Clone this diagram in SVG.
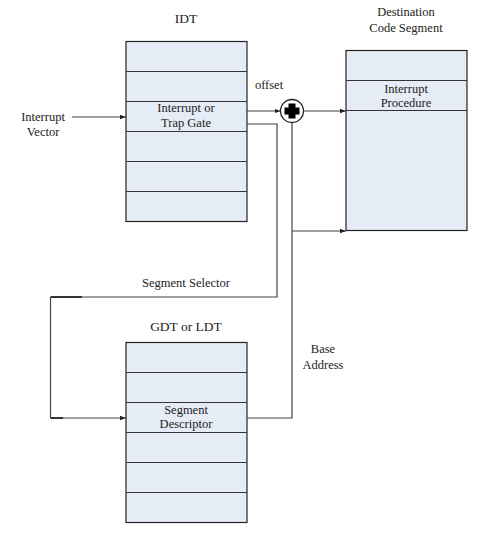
<svg xmlns="http://www.w3.org/2000/svg" width="495" height="543" viewBox="0 0 495 543" font-family="'Liberation Serif', 'DejaVu Serif', serif">
<style>
text{fill:#222;text-anchor:middle}
.t{font-size:12.5px}
.h{font-size:13.5px}
.box{fill:#e6ecf6;stroke:#222;stroke-width:1.2}
.row{stroke:#333;stroke-width:1}
.c{fill:none;stroke:#444;stroke-width:1.2}
</style>
<defs>
<marker id="ah" viewBox="0 0 8 6" refX="8" refY="3" markerWidth="6" markerHeight="5" orient="auto" markerUnits="userSpaceOnUse">
<path d="M0,0 L8,3 L0,6 Z" fill="#222"/>
</marker>
</defs>
<rect width="495" height="543" fill="#fff"/>

<g id="idt">
<text class="h" x="186" y="23">IDT</text>
<rect class="box" x="126" y="41.5" width="121" height="180"/>
<path class="row" d="M126 71.5H247M126 101.5H247M126 131.5H247M126 161.5H247M126 191.5H247"/>
<text class="t" x="186" y="112">Interrupt or</text>
<text class="t" x="186" y="127">Trap Gate</text>
</g>

<g id="vector">
<text class="t" x="43" y="121">Interrupt</text>
<text class="t" x="43" y="136">Vector</text>
</g>

<g id="dest">
<text class="t" x="406" y="16">Destination</text>
<text class="t" x="406" y="32">Code Segment</text>
<rect class="box" x="346" y="50.5" width="121" height="180"/>
<path class="row" d="M346 80.5H467M346 110.5H467"/>
<text class="t" x="406" y="93">Interrupt</text>
<text class="t" x="406" y="107">Procedure</text>
</g>

<g id="adder">
<circle cx="292" cy="111" r="11.5" fill="#fff" stroke="#222" stroke-width="1.3"/>
<path d="M288.5 103.5h7v4h4v7h-4v4h-7v-4h-4v-7h4z" fill="#000"/>
</g>

<g id="gdt">
<text class="h" x="186" y="331">GDT or LDT</text>
<rect class="box" x="126" y="342.5" width="121" height="180"/>
<path class="row" d="M126 372.5H247M126 402.5H247M126 432.5H247M126 462.5H247M126 492.5H247"/>
<text class="t" x="186" y="414">Segment</text>
<text class="t" x="186" y="428">Descriptor</text>
</g>

<g id="labels">
<text class="t" x="269" y="89">offset</text>
<text class="t" x="186" y="287">Segment Selector</text>
<text class="t" x="323" y="353">Base</text>
<text class="t" x="323" y="369">Address</text>
</g>

<g id="connectors">
<path class="c" d="M72 117H126" marker-end="url(#ah)"/>
<path class="c" d="M247 111H280.5" marker-end="url(#ah)"/>
<path class="c" d="M303.5 111H346" marker-end="url(#ah)"/>
<path class="c" d="M247 124H277V297H50.5V418H126" marker-end="url(#ah)"/>
<path class="c" d="M292 122.5V418H247"/>
<path class="c" d="M292 231H346" marker-end="url(#ah)"/>
<path d="M51 297H82M51 418H63" stroke="#111" stroke-width="1.6"/>
</g>
</svg>
